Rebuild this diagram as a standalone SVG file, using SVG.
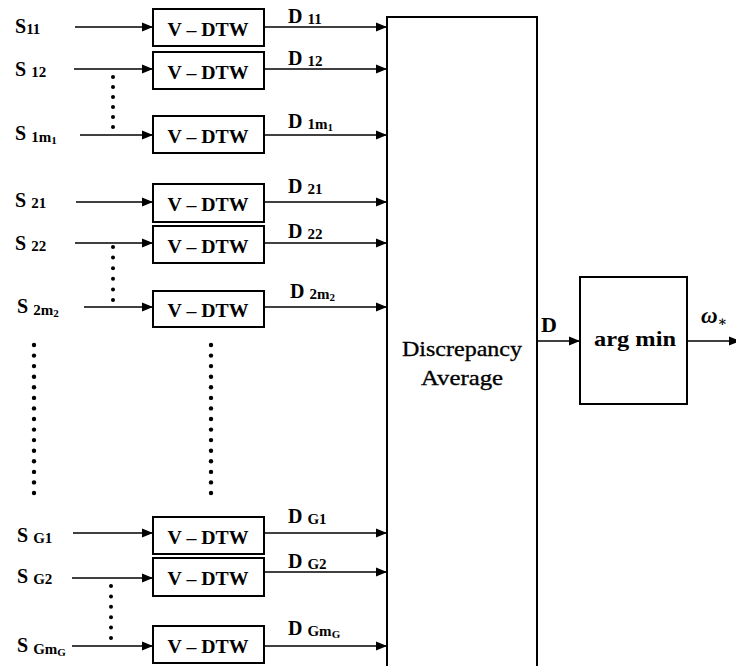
<svg xmlns="http://www.w3.org/2000/svg" width="736" height="666" viewBox="0 0 736 666">
<defs>
<marker id="ah" markerUnits="userSpaceOnUse" markerWidth="12" markerHeight="10" refX="11" refY="5" orient="auto">
<path d="M0,0.5 L11,5 L0,9.5 Z" fill="#000"/>
</marker>
<style>
.box{fill:#fff;stroke:#000;stroke-width:2}
.ln{fill:none;stroke:#000;stroke-width:1.6;marker-end:url(#ah)}
.t{font-family:"Liberation Serif","DejaVu Serif",serif;font-weight:bold;fill:#000}
.lab{font-size:20px}
.sub{font-size:15px}
.sub2{font-size:11px}
.vd{font-size:19px;text-anchor:middle}
.dot{fill:#000}
.big{font-family:"Liberation Serif","DejaVu Serif",serif;font-size:22px;text-anchor:middle;fill:#000;stroke:#000;stroke-width:0.35}
</style>
</defs>
<rect width="736" height="666" fill="#fff"/>

<g id="connectors">
<line class="ln" x1="75" y1="27" x2="153" y2="27"/>
<line class="ln" x1="74" y1="69" x2="153" y2="69"/>
<line class="ln" x1="80" y1="135" x2="153" y2="135"/>
<line class="ln" x1="76" y1="202" x2="153" y2="202"/>
<line class="ln" x1="75" y1="243" x2="153" y2="243"/>
<line class="ln" x1="84" y1="307" x2="153" y2="307"/>
<line class="ln" x1="73" y1="533" x2="153" y2="533"/>
<line class="ln" x1="72" y1="578" x2="153" y2="578"/>
<line class="ln" x1="72" y1="646" x2="153" y2="646"/>

<line class="ln" x1="264" y1="27" x2="387" y2="27"/>
<line class="ln" x1="264" y1="69" x2="387" y2="69"/>
<line class="ln" x1="264" y1="135" x2="387" y2="135"/>
<line class="ln" x1="264" y1="202" x2="387" y2="202"/>
<line class="ln" x1="264" y1="243" x2="387" y2="243"/>
<line class="ln" x1="264" y1="307" x2="387" y2="307"/>
<line class="ln" x1="264" y1="533" x2="387" y2="533"/>
<line class="ln" x1="264" y1="572" x2="387" y2="572"/>
<line class="ln" x1="264" y1="646" x2="387" y2="646"/>

<line class="ln" x1="538" y1="341" x2="580" y2="341"/>
<line class="ln" x1="687" y1="341" x2="740" y2="341"/>
</g>

<g id="labels-in">
<text class="t lab" x="15" y="33">S<tspan class="sub" dy="1">11</tspan></text>
<text class="t lab" x="15" y="76">S <tspan class="sub" dy="1">12</tspan></text>
<text class="t lab" x="15" y="140">S <tspan class="sub" dy="2">1m</tspan><tspan class="sub2" dy="2">1</tspan></text>
<text class="t lab" x="15" y="207">S <tspan class="sub" dy="1">21</tspan></text>
<text class="t lab" x="15" y="250">S <tspan class="sub" dy="1">22</tspan></text>
<text class="t lab" x="17" y="313">S <tspan class="sub" dy="2">2m</tspan><tspan class="sub2" dy="2">2</tspan></text>
<text class="t lab" x="17" y="542">S <tspan class="sub" dy="1">G1</tspan></text>
<text class="t lab" x="17" y="583">S <tspan class="sub" dy="1">G2</tspan></text>
<text class="t lab" x="17" y="652">S <tspan class="sub" dy="2">Gm</tspan><tspan class="sub2" dy="2">G</tspan></text>
</g>

<g id="labels-out">
<text class="t lab" x="288" y="23">D <tspan class="sub" dy="1">11</tspan></text>
<text class="t lab" x="288" y="65">D <tspan class="sub" dy="1">12</tspan></text>
<text class="t lab" x="288" y="128">D <tspan class="sub" dy="1">1m</tspan><tspan class="sub2" dy="2">1</tspan></text>
<text class="t lab" x="288" y="193">D <tspan class="sub" dy="1">21</tspan></text>
<text class="t lab" x="288" y="238">D <tspan class="sub" dy="1">22</tspan></text>
<text class="t lab" x="290" y="298">D <tspan class="sub" dy="1">2m</tspan><tspan class="sub2" dy="2">2</tspan></text>
<text class="t lab" x="288" y="523">D <tspan class="sub" dy="1">G1</tspan></text>
<text class="t lab" x="288" y="568">D <tspan class="sub" dy="1">G2</tspan></text>
<text class="t lab" x="288" y="635">D <tspan class="sub" dy="1">Gm</tspan><tspan class="sub2" dy="2">G</tspan></text>
<text class="t" x="541" y="332" font-size="22">D</text>
<text class="t" x="701" y="323" font-size="23" font-style="italic">ω<tspan font-size="14" dy="3">∗</tspan></text>
</g>

<g id="vdtw-11"><rect class="box" x="153" y="9" width="111" height="37"/><text class="t vd" x="208" y="36" textLength="81" lengthAdjust="spacingAndGlyphs">V – DTW</text></g>
<g id="vdtw-12"><rect class="box" x="153" y="52" width="111" height="37"/><text class="t vd" x="208" y="79" textLength="81" lengthAdjust="spacingAndGlyphs">V – DTW</text></g>
<g id="vdtw-1m1"><rect class="box" x="153" y="116" width="111" height="37"/><text class="t vd" x="208" y="143" textLength="81" lengthAdjust="spacingAndGlyphs">V – DTW</text></g>
<g id="vdtw-21"><rect class="box" x="153" y="184" width="111" height="38"/><text class="t vd" x="208" y="211" textLength="81" lengthAdjust="spacingAndGlyphs">V – DTW</text></g>
<g id="vdtw-22"><rect class="box" x="153" y="226" width="111" height="37"/><text class="t vd" x="208" y="253" textLength="81" lengthAdjust="spacingAndGlyphs">V – DTW</text></g>
<g id="vdtw-2m2"><rect class="box" x="153" y="291" width="111" height="36"/><text class="t vd" x="208" y="317" textLength="81" lengthAdjust="spacingAndGlyphs">V – DTW</text></g>
<g id="vdtw-G1"><rect class="box" x="153" y="517" width="111" height="37"/><text class="t vd" x="208" y="544" textLength="81" lengthAdjust="spacingAndGlyphs">V – DTW</text></g>
<g id="vdtw-G2"><rect class="box" x="153" y="558" width="111" height="38"/><text class="t vd" x="208" y="585" textLength="81" lengthAdjust="spacingAndGlyphs">V – DTW</text></g>
<g id="vdtw-GmG"><rect class="box" x="153" y="626" width="111" height="37"/><text class="t vd" x="208" y="653" textLength="81" lengthAdjust="spacingAndGlyphs">V – DTW</text></g>

<g id="discrepancy-average">
<rect class="box" x="387" y="17" width="150" height="660"/>
<text class="big" x="462" y="356" textLength="120" lengthAdjust="spacingAndGlyphs">Discrepancy</text>
<text class="big" x="462" y="385" textLength="82" lengthAdjust="spacingAndGlyphs">Average</text>
</g>

<g id="argmin">
<rect class="box" x="580" y="277" width="107" height="127"/>
<text class="t" x="635" y="346" font-size="21" text-anchor="middle" textLength="82" lengthAdjust="spacingAndGlyphs">arg min</text>
</g>

<g id="dots">
<circle class="dot" cx="113" cy="77" r="2"/><circle class="dot" cx="113" cy="87" r="2"/><circle class="dot" cx="113" cy="97" r="2"/><circle class="dot" cx="113" cy="107" r="2"/><circle class="dot" cx="113" cy="117" r="2"/><circle class="dot" cx="113" cy="127" r="2"/>
<circle class="dot" cx="113" cy="247" r="2"/><circle class="dot" cx="113" cy="257.6" r="2"/><circle class="dot" cx="113" cy="268.2" r="2"/><circle class="dot" cx="113" cy="278.8" r="2"/><circle class="dot" cx="113" cy="289.4" r="2"/><circle class="dot" cx="113" cy="300" r="2"/>
<circle class="dot" cx="111" cy="586" r="2"/><circle class="dot" cx="111" cy="596.4" r="2"/><circle class="dot" cx="111" cy="606.8" r="2"/><circle class="dot" cx="111" cy="617.2" r="2"/><circle class="dot" cx="111" cy="627.6" r="2"/><circle class="dot" cx="111" cy="638" r="2"/>
<g id="dots-col-a">
<circle class="dot" cx="34" cy="345" r="2.2"/><circle class="dot" cx="34" cy="355.6" r="2.2"/><circle class="dot" cx="34" cy="366.1" r="2.2"/><circle class="dot" cx="34" cy="376.7" r="2.2"/><circle class="dot" cx="34" cy="387.3" r="2.2"/><circle class="dot" cx="34" cy="397.9" r="2.2"/><circle class="dot" cx="34" cy="408.4" r="2.2"/><circle class="dot" cx="34" cy="419" r="2.2"/><circle class="dot" cx="34" cy="429.6" r="2.2"/><circle class="dot" cx="34" cy="440.1" r="2.2"/><circle class="dot" cx="34" cy="450.7" r="2.2"/><circle class="dot" cx="34" cy="461.3" r="2.2"/><circle class="dot" cx="34" cy="471.9" r="2.2"/><circle class="dot" cx="34" cy="482.4" r="2.2"/><circle class="dot" cx="34" cy="493" r="2.2"/>
</g>
<g id="dots-col-b">
<circle class="dot" cx="211" cy="345" r="2.2"/><circle class="dot" cx="211" cy="355.6" r="2.2"/><circle class="dot" cx="211" cy="366.1" r="2.2"/><circle class="dot" cx="211" cy="376.7" r="2.2"/><circle class="dot" cx="211" cy="387.3" r="2.2"/><circle class="dot" cx="211" cy="397.9" r="2.2"/><circle class="dot" cx="211" cy="408.4" r="2.2"/><circle class="dot" cx="211" cy="419" r="2.2"/><circle class="dot" cx="211" cy="429.6" r="2.2"/><circle class="dot" cx="211" cy="440.1" r="2.2"/><circle class="dot" cx="211" cy="450.7" r="2.2"/><circle class="dot" cx="211" cy="461.3" r="2.2"/><circle class="dot" cx="211" cy="471.9" r="2.2"/><circle class="dot" cx="211" cy="482.4" r="2.2"/><circle class="dot" cx="211" cy="493" r="2.2"/>
</g>
</g>
</svg>
